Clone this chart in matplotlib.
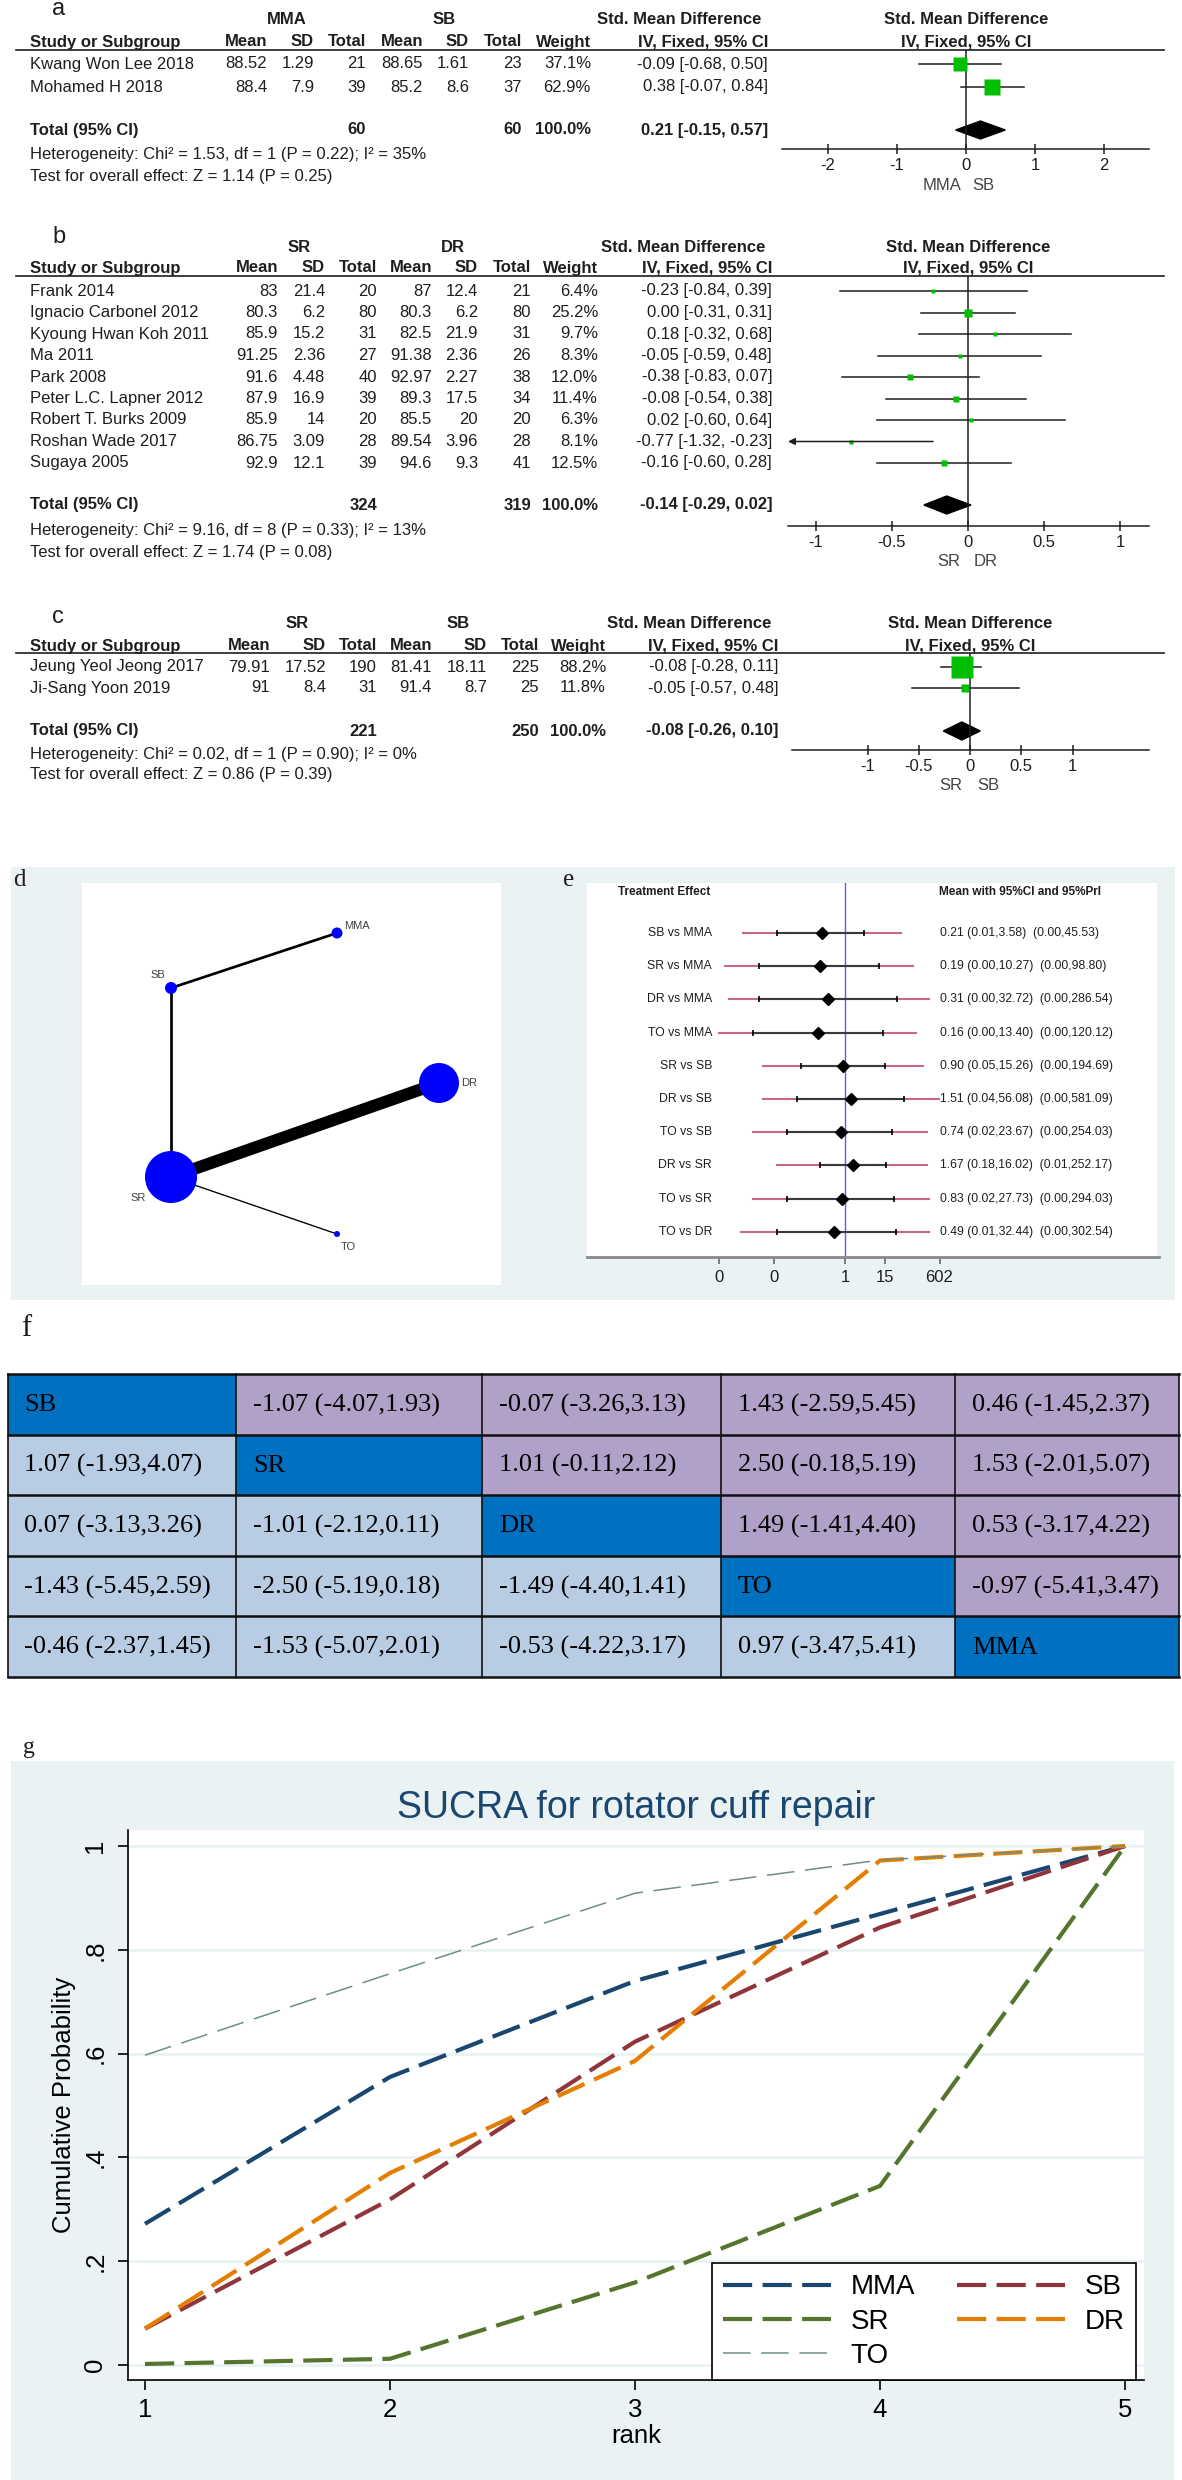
import numpy as np
import matplotlib
matplotlib.use("Agg")
import matplotlib.pyplot as plt
from matplotlib.patches import Rectangle, Polygon
from matplotlib.ticker import NullLocator

plt.rcParams['font.family'] = ['Liberation Sans', 'DejaVu Sans']

# ---------------- data ----------------
# a: MMA vs SB
studies_a = ["Kwang Won Lee 2018", "Mohamed H 2018"]
mma_mean_a = [88.52, 88.4]
mma_sd_a = [1.29, 7.9]
mma_n_a = [21, 39]
sb_mean_a = [88.65, 85.2]
sb_sd_a = [1.61, 8.6]
sb_n_a = [23, 37]
weight_a = [37.1, 62.9]
smd_a = [-0.09, 0.38]
lo_a = [-0.68, -0.07]
hi_a = [0.50, 0.84]
pooled_a = [0.21, -0.15, 0.57]
het_a = "Heterogeneity: Chi² = 1.53, df = 1 (P = 0.22); I² = 35%"
test_a = "Test for overall effect: Z = 1.14 (P = 0.25)"

# b: SR vs DR
studies_b = ["Frank 2014", "Ignacio Carbonel 2012", "Kyoung Hwan Koh 2011", "Ma 2011",
             "Park 2008", "Peter L.C. Lapner 2012", "Robert T. Burks 2009",
             "Roshan Wade 2017", "Sugaya 2005"]
sr_mean_b = [83, 80.3, 85.9, 91.25, 91.6, 87.9, 85.9, 86.75, 92.9]
sr_sd_b = [21.4, 6.2, 15.2, 2.36, 4.48, 16.9, 14, 3.09, 12.1]
sr_n_b = [20, 80, 31, 27, 40, 39, 20, 28, 39]
dr_mean_b = [87, 80.3, 82.5, 91.38, 92.97, 89.3, 85.5, 89.54, 94.6]
dr_sd_b = [12.4, 6.2, 21.9, 2.36, 2.27, 17.5, 20, 3.96, 9.3]
dr_n_b = [21, 80, 31, 26, 38, 34, 20, 28, 41]
weight_b = [6.4, 25.2, 9.7, 8.3, 12.0, 11.4, 6.3, 8.1, 12.5]
smd_b = [-0.23, 0.00, 0.18, -0.05, -0.38, -0.08, 0.02, -0.77, -0.16]
lo_b = [-0.84, -0.31, -0.32, -0.59, -0.83, -0.54, -0.60, -1.32, -0.60]
hi_b = [0.39, 0.31, 0.68, 0.48, 0.07, 0.38, 0.64, -0.23, 0.28]
pooled_b = [-0.14, -0.29, 0.02]
het_b = "Heterogeneity: Chi² = 9.16, df = 8 (P = 0.33); I² = 13%"
test_b = "Test for overall effect: Z = 1.74 (P = 0.08)"

# c: SR vs SB
studies_c = ["Jeung Yeol Jeong 2017", "Ji-Sang Yoon 2019"]
sr_mean_c = [79.91, 91]
sr_sd_c = [17.52, 8.4]
sr_n_c = [190, 31]
sb_mean_c = [81.41, 91.4]
sb_sd_c = [18.11, 8.7]
sb_n_c = [225, 25]
weight_c = [88.2, 11.8]
smd_c = [-0.08, -0.05]
lo_c = [-0.28, -0.57]
hi_c = [0.11, 0.48]
pooled_c = [-0.08, -0.26, 0.10]
het_c = "Heterogeneity: Chi² = 0.02, df = 1 (P = 0.90); I² = 0%"
test_c = "Test for overall effect: Z = 0.86 (P = 0.39)"

# d: network
nodes = ["MMA", "SB", "SR", "DR", "TO"]
edges = [("SB", "MMA"), ("SB", "SR"), ("SR", "DR"), ("SR", "TO")]
edge_studies = [2, 2, 9, 1]

# e: network forest
comparisons = ["SB vs MMA", "SR vs MMA", "DR vs MMA", "TO vs MMA", "SR vs SB",
               "DR vs SB", "TO vs SB", "DR vs SR", "TO vs SR", "TO vs DR"]
e_mean = [0.21, 0.19, 0.31, 0.16, 0.90, 1.51, 0.74, 1.67, 0.83, 0.49]
e_ci_lo = [0.01, 0.003, 0.003, 0.002, 0.05, 0.04, 0.02, 0.18, 0.02, 0.01]
e_ci_hi = [3.58, 10.27, 32.72, 13.40, 15.26, 56.08, 23.67, 16.02, 27.73, 32.44]
e_pri_lo = [0.001, 0.0003, 0.0004, 0.0002, 0.004, 0.004, 0.002, 0.01, 0.002, 0.0009]
e_pri_hi = [45.53, 98.80, 286.54, 120.12, 194.69, 581.09, 254.03, 252.17, 294.03, 302.54]
e_ticks = [0.0002, 0.008, 1, 15, 602]
e_tick_labels = ["0", "0", "1", "15", "602"]

# f: league table
league_sb = ["SB", "-1.07 (-4.07,1.93)", "-0.07 (-3.26,3.13)", "1.43 (-2.59,5.45)", "0.46 (-1.45,2.37)"]
league_sr = ["1.07 (-1.93,4.07)", "SR", "1.01 (-0.11,2.12)", "2.50 (-0.18,5.19)", "1.53 (-2.01,5.07)"]
league_dr = ["0.07 (-3.13,3.26)", "-1.01 (-2.12,0.11)", "DR", "1.49 (-1.41,4.40)", "0.53 (-3.17,4.22)"]
league_to = ["-1.43 (-5.45,2.59)", "-2.50 (-5.19,0.18)", "-1.49 (-4.40,1.41)", "TO", "-0.97 (-5.41,3.47)"]
league_mma = ["-0.46 (-2.37,1.45)", "-1.53 (-5.07,2.01)", "-0.53 (-4.22,3.17)", "0.97 (-3.47,5.41)", "MMA"]

# g: SUCRA
ranks = [1, 2, 3, 4, 5]
cum_mma = [0.272, 0.555, 0.740, 0.869, 1.0]
cum_sb = [0.070, 0.319, 0.623, 0.843, 1.0]
cum_sr = [0.002, 0.012, 0.159, 0.345, 1.0]
cum_dr = [0.070, 0.370, 0.586, 0.972, 1.0]
cum_to = [0.597, 0.754, 0.909, 0.973, 1.0]

# ---------------- layout ----------------
W, H = 1182, 2480
PT = 0.72  # points per pixel at 100 dpi
TXT = '#1e1e1e'
GREEN = '#00bf00'
STATA_BG = '#eaf2f3'

fig = plt.figure(figsize=(W / 100, H / 100), dpi=100)
fig.patch.set_facecolor('white')


def pax(x0, y0, x1, y1):
    return fig.add_axes([x0 / W, 1 - y1 / H, (x1 - x0) / W, (y1 - y0) / H])


bg = pax(0, 0, W, H)
bg.set_xlim(0, W)
bg.set_ylim(H, 0)
bg.axis('off')


def t(x, y, s, **kw):
    kw.setdefault('fontsize', 12)
    kw.setdefault('va', 'center')
    kw.setdefault('color', TXT)
    bg.text(x, y, s, **kw)


def forest(L, names, m1, s1, n1, m2, s2, n2, w, smd, lo, hi, pooled, het, test, groups):
    t(52, L['ly'], L['letter'], fontsize=17)
    t(L['grp'][0], L['gy'], groups[0], ha='center', weight='bold')
    t(L['grp'][1], L['gy'], groups[1], ha='center', weight='bold')
    t(L['ci'] - 7, L['gy'], 'Std. Mean Difference', ha='right', weight='bold')
    t(L['zero'], L['gy'], 'Std. Mean Difference', ha='center', weight='bold')
    t(30, L['hy'], 'Study or Subgroup', weight='bold')
    for x, s in zip(L['cols'], ['Mean', 'SD', 'Total', 'Mean', 'SD', 'Total', 'Weight']):
        t(x, L['hy'], s, ha='right', weight='bold')
    t(L['ci'], L['hy'], 'IV, Fixed, 95% CI', ha='right', weight='bold')
    t(L['zero'], L['hy'], 'IV, Fixed, 95% CI', ha='center', weight='bold')
    bg.plot([16, 1164], [L['uy'], L['uy']], color=TXT, lw=1.2)

    ys = L['row0'] + L['step'] * np.arange(len(names))
    for i, y in enumerate(ys):
        t(30, y, names[i])
        vals = [f"{m1[i]:g}", f"{s1[i]:g}", f"{n1[i]}", f"{m2[i]:g}", f"{s2[i]:g}",
                f"{n2[i]}", f"{w[i]:.1f}%"]
        for x, s in zip(L['cols'], vals):
            t(x, y, s, ha='right')
        t(L['ci'], y, f"{smd[i]:.2f} [{lo[i]:.2f}, {hi[i]:.2f}]", ha='right')

    ty = L['toty']
    t(30, ty, 'Total (95% CI)', weight='bold')
    t(L['cols'][2], ty, str(sum(n1)), ha='right', weight='bold')
    t(L['cols'][5], ty, str(sum(n2)), ha='right', weight='bold')
    t(L['cols'][6], ty, '100.0%', ha='right', weight='bold')
    est, plo, phi = pooled
    t(L['ci'], ty, f"{est:.2f} [{plo:.2f}, {phi:.2f}]", ha='right', weight='bold')
    t(30, L['hety'], het)
    t(30, L['testy'], test)

    x0, x1 = L['axx']
    ax = pax(x0, L['uy'], x1, L['axy'])
    ax.set_xlim((x0 - L['zero']) / L['unit'], (x1 - L['zero']) / L['unit'])
    ax.set_ylim(L['axy'], L['uy'])
    ax.patch.set_alpha(0)
    for s in ['left', 'right', 'top']:
        ax.spines[s].set_visible(False)
    ax.spines['bottom'].set_linewidth(1.1)
    ax.spines['bottom'].set_color(TXT)
    ax.set_yticks([])
    ax.set_xticks(L['ticks'])
    ax.set_xticklabels([f"{v:g}" for v in L['ticks']])
    ax.tick_params(axis='x', direction='inout', length=7, width=1.1, color=TXT,
                   labelsize=12, pad=3, labelcolor=TXT)
    ax.axvline(0, color=TXT, lw=1.1)
    xmin = ax.get_xlim()[0]
    for i, y in enumerate(ys):
        if lo[i] < xmin:
            ax.annotate('', xy=(xmin, y), xytext=(hi[i], y),
                        arrowprops=dict(arrowstyle='-|>', color=TXT, lw=1.1,
                                        mutation_scale=10, shrinkA=0, shrinkB=0))
        else:
            ax.plot([lo[i], hi[i]], [y, y], color=TXT, lw=1.1)
        ax.plot(smd[i], y, marker='s', ms=L['sq'] * np.sqrt(w[i]) * PT,
                color=GREEN, mec='none')
    ax.add_patch(Polygon([[plo, ty], [est, ty - 9], [phi, ty], [est, ty + 9]],
                         closed=True, color='k'))
    t(L['side'][0], L['sidey'], groups[0], ha='center', color='#444444')
    t(L['side'][1], L['sidey'], groups[1], ha='center', color='#444444')


lay_a = dict(letter='a', ly=9, gy=20, hy=42, uy=50, row0=64, step=23, toty=130,
             hety=154, testy=176, cols=[267, 314, 366, 423, 469, 522, 591], ci=768,
             grp=(287, 444), zero=966, unit=69, axx=(782, 1149), axy=149,
             ticks=[-2, -1, 0, 1, 2], sq=2.14, side=(942, 983), sidey=185)
lay_b = dict(letter='b', ly=237, gy=247, hy=268, uy=276, row0=291, step=21.5, toty=505,
             hety=530, testy=552, cols=[278, 325, 377, 432, 478, 531, 598], ci=772,
             grp=(299, 453), zero=968, unit=152, axx=(788, 1149), axy=526,
             ticks=[-1, -0.5, 0, 0.5, 1], sq=1.6, side=(949, 986), sidey=562)
lay_c = dict(letter='c', ly=617, gy=624, hy=646, uy=653, row0=667, step=21, toty=731,
             hety=754, testy=775, cols=[270, 326, 377, 432, 487, 539, 606], ci=778,
             grp=(297, 458), zero=970, unit=102.5, axx=(792, 1149), axy=750,
             ticks=[-1, -0.5, 0, 0.5, 1], sq=2.24, side=(951, 988), sidey=786)

forest(lay_a, studies_a, mma_mean_a, mma_sd_a, mma_n_a, sb_mean_a, sb_sd_a, sb_n_a,
       weight_a, smd_a, lo_a, hi_a, pooled_a, het_a, test_a, ("MMA", "SB"))
forest(lay_b, studies_b, sr_mean_b, sr_sd_b, sr_n_b, dr_mean_b, dr_sd_b, dr_n_b,
       weight_b, smd_b, lo_b, hi_b, pooled_b, het_b, test_b, ("SR", "DR"))
forest(lay_c, studies_c, sr_mean_c, sr_sd_c, sr_n_c, sb_mean_c, sb_sd_c, sb_n_c,
       weight_c, smd_c, lo_c, hi_c, pooled_c, het_c, test_c, ("SR", "SB"))

# ---------------- d + e background ----------------
bg.add_patch(Rectangle((11, 867), 1164, 433, fc=STATA_BG, ec='none'))
bg.add_patch(Rectangle((82, 883), 419, 402, fc='white', ec='none'))
bg.add_patch(Rectangle((587, 883), 570, 374, fc='white', ec='none'))
t(13, 880, 'd', family='Liberation Serif', fontsize=18)
t(563, 880, 'e', family='Liberation Serif', fontsize=18)

# d: network plot
node_xy = {"MMA": (337, 933), "SB": (171, 988), "SR": (171, 1177),
           "DR": (439, 1083), "TO": (337, 1234)}
node_diam = {"MMA": 11, "SB": 12, "SR": 52, "DR": 40, "TO": 6}
label_xy = {"MMA": (344, 926, 'left'), "SB": (165, 975, 'right'), "SR": (146, 1198, 'right'),
            "DR": (461, 1083, 'left'), "TO": (348, 1247, 'center')}
axd = pax(82, 883, 501, 1285)
axd.set_xlim(82, 501)
axd.set_ylim(1285, 883)
axd.axis('off')
for (na, nb), n in zip(edges, edge_studies):
    xa, ya = node_xy[na]
    xb, yb = node_xy[nb]
    axd.plot([xa, xb], [ya, yb], color='k', lw=1.35 * n * PT, solid_capstyle='butt', zorder=1)
for nm in nodes:
    x, y = node_xy[nm]
    axd.scatter([x], [y], s=(node_diam[nm] * PT) ** 2, color='#0000ff', edgecolors='none', zorder=2)
    lx, ly, ha = label_xy[nm]
    t(lx, ly, nm, ha=ha, fontsize=8, color='#404040')

# e: treatment effects
t(618, 892, 'Treatment Effect', fontsize=8.5, weight='bold')
t(939, 892, 'Mean with 95%CI and 95%PrI', fontsize=8.5, weight='bold')
axe = pax(587, 883, 1159, 1257)
axe.set_xscale('log')
axe.set_xlim(10 ** ((587 - 845) / 34), 10 ** ((1159 - 845) / 34))
axe.set_ylim(1257, 883)
axe.patch.set_alpha(0)
for s in ['left', 'right', 'top']:
    axe.spines[s].set_visible(False)
axe.spines['bottom'].set_color('#888888')
axe.spines['bottom'].set_linewidth(2)
axe.set_yticks([])
axe.set_xticks(e_ticks)
axe.set_xticklabels(e_tick_labels)
axe.xaxis.set_minor_locator(NullLocator())
axe.tick_params(axis='x', direction='out', length=5, width=1.2, color='#666666',
                labelsize=12, pad=4, labelcolor=TXT)
axe.axvline(1, color='#5a5aff', lw=1)
ye = 933 + 33.2 * np.arange(len(comparisons))
for i, y in enumerate(ye):
    axe.plot([e_pri_lo[i], e_pri_hi[i]], [y, y], color='#cc6688', lw=1.5)
    axe.plot([e_ci_lo[i], e_ci_hi[i]], [y, y], color='#3a3a3a', lw=1.5)
    axe.plot([e_ci_lo[i], e_ci_hi[i]], [y, y], ls='none', marker='|', ms=5, mew=1.2, color='k')
    axe.plot(e_mean[i], y, marker='D', ms=6.5, color='k')
    t(712, y, comparisons[i], ha='right', fontsize=8.8)
    t(940, y, f"{e_mean[i]:.2f} ({e_ci_lo[i]:.2f},{e_ci_hi[i]:.2f})  "
              f"({e_pri_lo[i]:.2f},{e_pri_hi[i]:.2f})", fontsize=8.7)

# ---------------- f: league table ----------------
t(21, 1328, 'f', family='Liberation Serif', fontsize=22)
league = [league_sb, league_sr, league_dr, league_to, league_mma]
col_edges = [7.5, 236, 482, 721, 955, 1179]
row_edges = [1374, 1434.5, 1495, 1556, 1616, 1677]
for r, row in enumerate(league):
    for c, s in enumerate(row):
        fc = '#0070c0' if r == c else ('#b1a0c7' if c > r else '#b8cce4')
        bg.add_patch(Rectangle((col_edges[c], row_edges[r]), col_edges[c + 1] - col_edges[c],
                               row_edges[r + 1] - row_edges[r], fc=fc, ec='none'))
        t(col_edges[c] + 17, (row_edges[r] + row_edges[r + 1]) / 2 + 1, s,
          family='Liberation Serif', fontsize=19, color='k')
for y in row_edges:
    bg.plot([col_edges[0], col_edges[-1]], [y, y], color='#111111', lw=1.8)
for x in col_edges:
    bg.plot([x, x], [row_edges[0], row_edges[-1]], color='#111111', lw=1.2)

# ---------------- g: SUCRA ----------------
t(23, 1747, 'g', family='Liberation Serif', fontsize=17)
bg.add_patch(Rectangle((11, 1761), 1163, 719, fc=STATA_BG, ec='none'))
t(636, 1808, 'SUCRA for rotator cuff repair', ha='center', fontsize=27, color='#1a476f')
t(636, 2436, 'rank', ha='center', fontsize=18.5, color='k')
t(64, 2105, 'Cumulative Probability', ha='center', rotation=90, fontsize=18.5, color='k')

axg = pax(128, 1830, 1144, 2380)
axg.set_facecolor('white')
axg.set_xlim(1 - 17 / 245, 5 + 19 / 245)
axg.set_ylim(-15 / 519, 535 / 519)
for s in ['right', 'top']:
    axg.spines[s].set_visible(False)
for s in ['left', 'bottom']:
    axg.spines[s].set_linewidth(1.2)
    axg.spines[s].set_color('k')
axg.set_xticks(ranks)
axg.set_yticks([0, 0.2, 0.4, 0.6, 0.8, 1.0])
axg.set_yticklabels(["0", ".2", ".4", ".6", ".8", "1"])
axg.tick_params(axis='both', direction='out', length=7, width=1.2, labelsize=18.5)
axg.tick_params(axis='y', labelrotation=90, pad=8)
axg.tick_params(axis='x', pad=6)
for lab in axg.get_yticklabels():
    lab.set_va('center')
axg.yaxis.grid(True, color=STATA_BG, lw=2)
axg.set_axisbelow(True)

series = [("MMA", cum_mma, '#1a476f', 3.0, (7, 2.5)),
          ("SB", cum_sb, '#90353b', 3.0, (7, 2.5)),
          ("SR", cum_sr, '#55752f', 3.0, (7, 2.5)),
          ("DR", cum_dr, '#e37e00', 3.0, (7, 2.5)),
          ("TO", cum_to, '#6e8e84', 1.1, (18, 7))]
handles = {}
for name, vals, col, lw, dash in series:
    ln, = axg.plot(ranks, vals, color=col, lw=lw, dashes=dash, label=name)
    handles[name] = ln

order = ["MMA", "SR", "TO", "SB", "DR"]
leg = axg.legend([handles[k] for k in order], order, ncol=2, loc='lower right',
                 bbox_to_anchor=(0.992, 0.0), borderaxespad=0, fontsize=20,
                 handlelength=3.9, handletextpad=0.7, columnspacing=1.5,
                 labelspacing=0.3, borderpad=0.4, fancybox=False,
                 edgecolor='black', framealpha=1)
leg.get_frame().set_linewidth(1.2)

fig.savefig('out.png', dpi=100, facecolor='white')
